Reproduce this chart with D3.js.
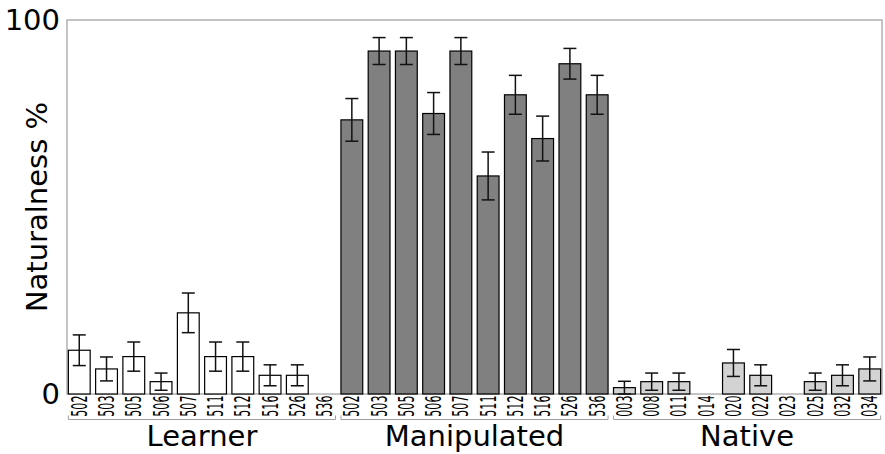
<!DOCTYPE html>
<html>
<head>
<meta charset="utf-8">
<script src="https://cdn.jsdelivr.net/npm/d3@7"></script>
<style>
  html, body { margin: 0; padding: 0; background: #fff; }
  svg { display: block; font-family: "DejaVu Sans", sans-serif; }
</style>
</head>
<body>
<svg id="chart" width="885" height="454"></svg>
<script>
// Groups and speaker IDs
const groups = ["Learner", "Manipulated", "Native"];
const learnerIds = ["502", "503", "505", "506", "507", "511", "512", "516", "526", "536"];
const manipulatedIds = ["502", "503", "505", "506", "507", "511", "512", "516", "526", "536"];
const nativeIds = ["003", "008", "011", "014", "020", "022", "023", "025", "032", "034"];

// Naturalness percentages and standard errors per speaker
const learnerValues = [11.7, 6.7, 10.0, 3.3, 21.7, 10.0, 10.0, 5.0, 5.0, 0];
const learnerErrors = [4.1, 3.2, 3.9, 2.3, 5.3, 3.9, 3.9, 2.8, 2.8, 0];
const manipulatedValues = [73.3, 91.7, 91.7, 75.0, 91.7, 58.3, 80.0, 68.3, 88.3, 80.0];
const manipulatedErrors = [5.7, 3.6, 3.6, 5.6, 3.6, 6.4, 5.2, 6.0, 4.1, 5.2];
const nativeValues = [1.7, 3.3, 3.3, 0, 8.3, 5.0, 0, 3.3, 5.0, 6.7];
const nativeErrors = [1.7, 2.3, 2.3, 0, 3.6, 2.8, 0, 2.3, 2.8, 3.2];

const yTicks = [0, 100];
const yLabel = "Naturalness %";

const groupFill = { "Learner": "#ffffff", "Manipulated": "#808080", "Native": "#d3d3d3" };

// Flatten into one row per bar
const rows = [];
[[learnerIds, learnerValues, learnerErrors],
 [manipulatedIds, manipulatedValues, manipulatedErrors],
 [nativeIds, nativeValues, nativeErrors]].forEach(([ids, vals, errs], gi) => {
  ids.forEach((id, i) => rows.push({ key: gi + "-" + id, id, group: groups[gi], value: vals[i], err: errs[i] }));
});

const plotLeft = 67, plotRight = 882, plotTop = 20, plotBottom = 394;
const svg = d3.select("#chart");

const x = d3.scaleBand()
  .domain(rows.map(d => d.key))
  .range([plotLeft, plotRight])
  .paddingInner(0.2)
  .paddingOuter(0.05);

const y = d3.scaleLinear().domain([0, 100]).range([plotBottom, plotTop]);

// Frame
svg.append("rect")
  .attr("x", plotLeft).attr("y", plotTop)
  .attr("width", plotRight - plotLeft).attr("height", plotBottom - plotTop)
  .attr("fill", "none").attr("stroke", "#b0b0b0").attr("stroke-width", 1.5);

// Bars
svg.append("g").selectAll("rect")
  .data(rows.filter(d => d.value > 0))
  .join("rect")
  .attr("x", d => x(d.key))
  .attr("y", d => y(d.value))
  .attr("width", x.bandwidth())
  .attr("height", d => y(0) - y(d.value))
  .attr("fill", d => groupFill[d.group])
  .attr("stroke", "#000")
  .attr("stroke-width", 1.2);

// Error bars
const eg = svg.append("g").attr("stroke", "#111").attr("stroke-width", 1.5).attr("fill", "none");
const capHalf = 6.5;
rows.filter(d => d.err > 0).forEach(d => {
  const cx = x(d.key) + x.bandwidth() / 2;
  const hi = y(d.value + d.err), lo = y(Math.max(0, d.value - d.err));
  eg.append("line").attr("x1", cx).attr("x2", cx).attr("y1", hi).attr("y2", lo);
  eg.append("line").attr("x1", cx - capHalf).attr("x2", cx + capHalf).attr("y1", hi).attr("y2", hi);
  eg.append("line").attr("x1", cx - capHalf).attr("x2", cx + capHalf).attr("y1", lo).attr("y2", lo);
});

// Y tick labels
svg.append("g").selectAll("text")
  .data(yTicks)
  .join("text")
  .attr("x", 60)
  .attr("y", d => y(d))
  .attr("dy", "0.36em")
  .attr("text-anchor", "end")
  .attr("font-size", 29)
  .attr("fill", "#000")
  .text(d => d);

// Y axis title
svg.append("text")
  .attr("transform", `translate(47, ${(plotTop + plotBottom) / 2}) rotate(-90)`)
  .attr("text-anchor", "middle")
  .attr("font-size", 29)
  .attr("fill", "#000")
  .text(yLabel);

// Speaker ID labels, rotated and squeezed along their length
svg.append("g").selectAll("text")
  .data(rows)
  .join("text")
  .attr("transform", d => `translate(${x(d.key) + x.bandwidth() / 2 + 7.5}, 395.5) rotate(-90) scale(0.53,1)`)
  .attr("text-anchor", "end")
  .attr("font-size", 21)
  .attr("fill", "#000")
  .text(d => d.id);

// Group brackets and names
groups.forEach(g => {
  const gr = rows.filter(d => d.group === g);
  const x0 = x(gr[0].key), x1 = x(gr[gr.length - 1].key) + x.bandwidth();
  svg.append("path")
    .attr("d", `M${x0},415.5 V419.5 H${x1} V415.5`)
    .attr("fill", "none").attr("stroke", "#a0a0a0").attr("stroke-width", 1);
  svg.append("text")
    .attr("x", (x0 + x1) / 2)
    .attr("y", 446)
    .attr("text-anchor", "middle")
    .attr("font-size", 29)
    .attr("fill", "#000")
    .text(g);
});
</script>
</body>
</html>
